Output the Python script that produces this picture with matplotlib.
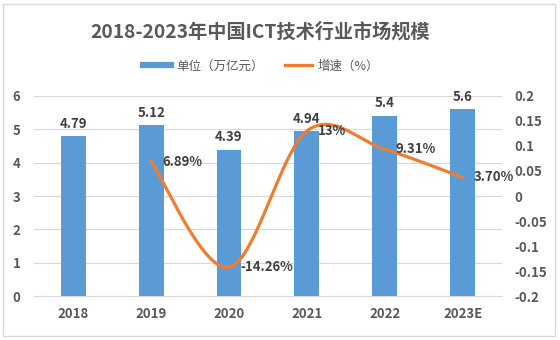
import numpy as np
import matplotlib.pyplot as plt
from matplotlib.lines import Line2D
from matplotlib.patches import Rectangle

plt.rcParams['font.family'] = ['Noto Sans CJK SC', 'DejaVu Sans']

years = ['2018', '2019', '2020', '2021', '2022', '2023E']
scale = [4.79, 5.12, 4.39, 4.94, 5.4, 5.6]          # 单位（万亿元）
growth = [0.0689, -0.1426, 0.13, 0.0931, 0.037]     # 增速, 2019 起
growth_labels = ['6.89%', '-14.26%', '13%', '9.31%', '3.70%']

bar_color = '#5B9BD5'
line_color = '#ED7D31'
text_color = '#595959'


def smooth(xs, ys, n=40):
    # Bezier smoothing in the style of office charts (Catmull-Rom control points)
    xs = np.asarray(xs, float)
    ys = np.asarray(ys, float)
    px = np.concatenate([[xs[0]], xs, [xs[-1]]])
    py = np.concatenate([[ys[0]], ys, [ys[-1]]])
    out_x, out_y = [], []
    t = np.linspace(0, 1, n)
    for i in range(1, len(px) - 2):
        p0 = np.array([px[i], py[i]])
        p3 = np.array([px[i + 1], py[i + 1]])
        c1 = p0 + (np.array([px[i + 1], py[i + 1]]) - np.array([px[i - 1], py[i - 1]])) / 6
        c2 = p3 - (np.array([px[i + 2], py[i + 2]]) - np.array([px[i], py[i]])) / 6
        b = ((1 - t) ** 3)[:, None] * p0 + (3 * (1 - t) ** 2 * t)[:, None] * c1 \
            + (3 * (1 - t) * t ** 2)[:, None] * c2 + (t ** 3)[:, None] * p3
        out_x.extend(b[:, 0])
        out_y.extend(b[:, 1])
    return np.array(out_x), np.array(out_y)


fig = plt.figure(figsize=(5.6, 3.4), dpi=100)
fig.patches.append(Rectangle((0.006, 0.012), 0.985, 0.976, transform=fig.transFigure,
                             fill=False, edgecolor='#D9D9D9', lw=1))

ax = fig.add_axes([0.061, 0.129, 0.835, 0.589])
x = np.arange(len(years))
ax.bar(x, scale, width=0.32, color=bar_color, zorder=2)
for xi, v in zip(x, scale):
    ax.annotate(f'{v:g}', (xi, v), xytext=(0, 4), textcoords='offset points',
                ha='center', va='bottom', fontsize=9.5, fontweight='bold', color='#404040')

ax.set_xlim(-0.5, len(years) - 0.5)
ax.set_ylim(0, 6)
ax.set_yticks(range(0, 7))
ax.set_xticks(x)
ax.set_xticklabels(years)
ax.grid(axis='y', color='#D9D9D9', lw=0.8, zorder=0)
ax.set_axisbelow(True)
for s in ax.spines.values():
    s.set_visible(False)
ax.spines['bottom'].set_visible(True)
ax.spines['bottom'].set_color('#D9D9D9')
ax.tick_params(length=0, labelsize=9.5, colors=text_color)
ax.tick_params(axis='y', pad=10)
ax.tick_params(axis='x', pad=8)
for lab in ax.get_xticklabels() + ax.get_yticklabels():
    lab.set_fontweight('bold')

ax2 = ax.twinx()
gx = x[1:]
sx, sy = smooth(gx, growth)
ax2.plot(sx, sy, color=line_color, lw=2.3, solid_capstyle='round', zorder=3)
for xi, v, lab in zip(gx, growth, growth_labels):
    ax2.annotate(lab, (xi, v), xytext=(8, 0), textcoords='offset points',
                 ha='left', va='center', fontsize=9.5, fontweight='bold', color='#404040')
ax2.set_ylim(-0.2, 0.2)
ax2.set_yticks(np.arange(-0.2, 0.201, 0.05))
ax2.set_yticklabels(['-0.2', '-0.15', '-0.1', '-0.05', '0', '0.05', '0.1', '0.15', '0.2'])
for s in ax2.spines.values():
    s.set_visible(False)
ax2.tick_params(length=0, labelsize=9.5, colors=text_color, pad=9)
for lab in ax2.get_yticklabels():
    lab.set_fontweight('bold')

fig.text(0.465, 0.905, '2018-2023年中国ICT技术行业市场规模', ha='center', va='center',
         fontsize=13.8, fontweight='bold', color=text_color)

handles = [Line2D([], [], color=bar_color, lw=4.5),
           Line2D([], [], color=line_color, lw=2.3)]
fig.legend(handles, ['单位（万亿元）', '增速（%）'], loc='center', bbox_to_anchor=(0.466, 0.805),
           ncol=2, frameon=False, fontsize=9, labelcolor=text_color,
           handlelength=2.2, columnspacing=1.7, handletextpad=0.4)

fig.savefig('out.png', dpi=100)
